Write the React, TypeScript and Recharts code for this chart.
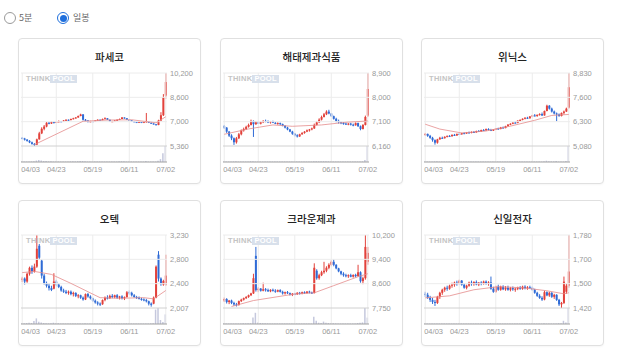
import { ComposedChart, Bar, Line, XAxis, YAxis, ReferenceLine } from "recharts"

// trading days 2025-04-03 .. 2025-07-02
const dates = [
  "04/03", "04/04", "04/07", "04/08", "04/09", "04/10", "04/11", "04/14", "04/15", "04/16",
  "04/17", "04/18", "04/21", "04/22", "04/23", "04/24", "04/25", "04/28", "04/29", "04/30",
  "05/02", "05/07", "05/08", "05/09", "05/12", "05/13", "05/14", "05/15", "05/16", "05/19",
  "05/20", "05/21", "05/22", "05/23", "05/26", "05/27", "05/28", "05/29", "05/30", "06/02",
  "06/04", "06/05", "06/09", "06/10", "06/11", "06/12", "06/13", "06/16", "06/17", "06/18",
  "06/19", "06/20", "06/23", "06/24", "06/25", "06/26", "06/27", "06/30", "07/01", "07/02",
]
const dateTicks = ["04/03", "04/23", "05/19", "06/11", "07/02"]

type Ohlc = [number, number, number, number] // open, high, low, close

const pasecoCandles: Ohlc[] = [
  [5900, 5950, 5800, 5850], [5850, 5900, 5720, 5780], [5780, 5820, 5650, 5700], [5700, 5750, 5550, 5600], [5600, 5650, 5450, 5500],
  [5500, 5550, 5360, 5450], [5450, 5850, 5420, 5800], [5800, 6300, 5780, 6200], [6200, 6600, 6150, 6500], [6500, 6750, 6400, 6650],
  [6650, 6950, 6600, 6900], [6900, 6950, 6800, 6850], [6850, 7000, 6820, 6950], [6950, 6980, 6850, 6900], [6900, 7000, 6880, 6950],
  [6950, 7050, 6920, 7000], [7000, 7020, 6940, 6980], [6980, 7080, 6960, 7050], [7050, 7130, 7020, 7100], [7100, 7120, 7040, 7080],
  [7080, 7180, 7060, 7150], [7150, 7230, 7120, 7200], [7200, 7280, 7170, 7250], [7250, 7380, 7230, 7350], [7350, 7500, 7330, 7450],
  [7450, 7480, 7050, 7100], [7100, 7150, 7000, 7050], [7050, 7080, 6920, 6950], [6950, 7030, 6930, 7000], [7000, 7020, 6950, 6980],
  [6980, 7080, 6970, 7050], [7050, 7130, 7030, 7100], [7100, 7120, 7050, 7080], [7080, 7180, 7070, 7150], [7150, 7260, 7130, 7200],
  [7200, 7210, 7080, 7100], [7100, 7110, 6960, 6980], [6980, 7030, 6950, 7000], [7000, 7080, 6990, 7050], [7050, 7130, 7040, 7100],
  [7100, 7180, 7080, 7150], [7150, 7280, 7140, 7250], [7250, 7260, 7170, 7200], [7200, 7210, 7080, 7100], [7100, 7120, 7020, 7050],
  [7050, 7070, 6980, 7000], [7000, 7010, 6930, 6950], [6950, 6970, 6880, 6900], [6900, 6980, 6890, 6950], [6950, 6960, 6880, 6900],
  [6900, 6980, 6880, 6950], [6950, 7550, 6900, 7000], [7000, 7010, 6880, 6900], [6900, 6920, 6830, 6850], [6850, 6870, 6780, 6800],
  [6800, 6820, 6730, 6750], [6750, 7100, 6740, 7050], [7050, 7600, 7000, 7400], [7400, 8800, 7350, 8600], [8700, 10200, 8500, 9600],
]
const pasecoVolume = [
  4, 3, 3, 3, 4, 5, 9, 12, 10, 6, 6, 4, 4, 3, 3, 3, 3, 3, 3, 3,
  4, 4, 4, 5, 6, 6, 4, 3, 3, 3, 3, 3, 3, 3, 3, 3, 3, 3, 3, 3,
  4, 5, 4, 3, 3, 3, 3, 3, 3, 3, 3, 6, 3, 3, 3, 3, 8, 18, 55, 100,
]
const pasecoMa = [[5, 5450], [25, 7000], [35, 7080], [45, 7100], [55, 6900], [59, 7300]]
const pasecoTicks = [5360, 7000, 8600, 10200]

const haitaiCandles: Ohlc[] = [
  [6900, 6950, 6800, 6850], [6850, 6870, 6650, 6700], [6700, 6720, 6500, 6550], [6550, 6600, 6380, 6450], [6450, 6480, 6200, 6300],
  [6300, 6500, 6250, 6450], [6450, 6650, 6420, 6600], [6600, 6780, 6560, 6750], [6750, 6850, 6700, 6800], [6800, 6920, 6760, 6880],
  [6880, 7000, 6850, 6950], [6950, 7150, 6930, 7100], [7100, 7120, 6500, 6980], [6980, 7100, 6950, 7050], [7050, 7100, 6990, 7000],
  [7000, 7080, 6970, 7050], [7050, 7130, 7020, 7100], [7100, 7150, 7050, 7080], [7080, 7120, 7020, 7050], [7050, 7100, 7000, 7080],
  [7080, 7110, 7020, 7030], [7030, 7060, 6980, 7000], [7000, 7050, 6960, 7020], [7020, 7040, 6950, 6980], [6980, 7000, 6900, 6920],
  [6920, 6940, 6820, 6850], [6850, 6880, 6750, 6780], [6780, 6800, 6680, 6700], [6700, 6730, 6580, 6620], [6620, 6650, 6520, 6560],
  [6560, 6600, 6480, 6520], [6520, 6620, 6500, 6600], [6600, 6680, 6580, 6650], [6650, 6720, 6620, 6700], [6700, 6780, 6680, 6750],
  [6750, 6800, 6700, 6780], [6780, 6850, 6750, 6820], [6820, 7000, 6800, 6950], [6950, 7100, 6930, 7050], [7050, 7200, 7020, 7150],
  [7150, 7300, 7120, 7250], [7250, 7400, 7230, 7350], [7350, 7500, 7320, 7450], [7450, 7520, 7350, 7380], [7380, 7400, 7250, 7280],
  [7280, 7300, 7150, 7180], [7180, 7220, 7050, 7100], [7100, 7150, 7000, 7050], [7050, 7080, 6980, 7020], [7020, 7060, 6960, 7000],
  [7000, 7040, 6950, 6980], [6980, 7020, 6940, 7000], [7000, 7030, 6930, 6960], [6960, 7000, 6900, 6940], [6940, 7050, 6920, 7020],
  [7020, 7040, 6880, 6900], [6900, 6930, 6750, 6800], [6800, 6980, 6780, 6950], [6950, 7300, 6930, 7250], [7300, 8900, 7250, 8300],
]
const haitaiVolume = [
  3, 3, 3, 3, 4, 4, 3, 3, 3, 3, 3, 5, 4, 3, 3, 3, 3, 3, 3, 3,
  3, 3, 3, 3, 3, 3, 3, 3, 3, 3, 3, 3, 3, 3, 3, 3, 3, 4, 4, 4,
  4, 5, 5, 4, 3, 3, 3, 3, 3, 3, 3, 3, 3, 3, 3, 3, 3, 4, 12, 100,
]
const haitaiMa = [[0, 6600], [10, 6800], [20, 6950], [28, 6900], [40, 6950], [50, 7050], [59, 7100]]
const haitaiTicks = [6160, 7100, 8000, 8900]

const winixCandles: Ohlc[] = [
  [5650, 5750, 5600, 5700], [5700, 5720, 5550, 5600], [5600, 5650, 5450, 5500], [5500, 5550, 5300, 5380], [5380, 5420, 5150, 5250],
  [5250, 5450, 5200, 5420], [5420, 5550, 5400, 5500], [5500, 5560, 5450, 5480], [5480, 5580, 5460, 5550], [5550, 5620, 5520, 5600],
  [5600, 5640, 5540, 5580], [5580, 5680, 5560, 5650], [5650, 5700, 5600, 5620], [5620, 5720, 5600, 5700], [5700, 5750, 5650, 5680],
  [5680, 5760, 5660, 5740], [5740, 5780, 5690, 5720], [5720, 5800, 5700, 5780], [5780, 5820, 5720, 5750], [5750, 5830, 5730, 5800],
  [5800, 5850, 5760, 5780], [5780, 5870, 5760, 5850], [5850, 5900, 5800, 5820], [5820, 5920, 5800, 5900], [5900, 5950, 5850, 5880],
  [5880, 5980, 5860, 5950], [5950, 5990, 5880, 5900], [5900, 5960, 5850, 5870], [5870, 5950, 5850, 5930], [5930, 6000, 5900, 5980],
  [5980, 6020, 5920, 5950], [5950, 6060, 5940, 6030], [6030, 6080, 5980, 6000], [6000, 6120, 5990, 6100], [6100, 6200, 6080, 6180],
  [6180, 6250, 6150, 6220], [6220, 6300, 6200, 6280], [6280, 6350, 6240, 6260], [6260, 6400, 6250, 6380], [6380, 6450, 6340, 6420],
  [6420, 6500, 6400, 6480], [6480, 6560, 6450, 6530], [6530, 6580, 6470, 6500], [6500, 6620, 6490, 6600], [6600, 6680, 6560, 6650],
  [6650, 6720, 6600, 6620], [6620, 6700, 6580, 6680], [6680, 6760, 6640, 6720], [6720, 6800, 6620, 6650], [6650, 6900, 6640, 6880],
  [6880, 7200, 6860, 7150], [7150, 7180, 6950, 7000], [7000, 7050, 6800, 6850], [6850, 6900, 6700, 6750], [6750, 6800, 6350, 6700],
  [6700, 6750, 6580, 6620], [6620, 6800, 6600, 6780], [6780, 6900, 6700, 6850], [6850, 7050, 6830, 7000], [7050, 8830, 7000, 8100],
]
const winixVolume = [
  3, 3, 3, 3, 4, 4, 3, 3, 3, 3, 3, 3, 3, 3, 3, 3, 3, 3, 3, 3,
  3, 3, 3, 3, 3, 3, 3, 3, 3, 3, 3, 3, 3, 3, 3, 3, 3, 3, 3, 3,
  3, 3, 3, 3, 3, 3, 3, 3, 3, 5, 8, 5, 4, 4, 6, 3, 3, 3, 6, 100,
]
const winixMa = [[0, 6200], [6, 5950], [15, 5750], [25, 5850], [35, 6100], [45, 6400], [52, 6650], [59, 6700]]
const winixTicks = [5080, 6300, 7600, 8830]

const otechCandles: Ohlc[] = [
  [2480, 2530, 2440, 2500], [2500, 2520, 2400, 2450], [2450, 2600, 2430, 2580], [2580, 2700, 2550, 2680], [2680, 2720, 2580, 2620],
  [2620, 2750, 2600, 2700], [2700, 3230, 2680, 3000], [3050, 3080, 2820, 2850], [2800, 2820, 2500, 2550], [2550, 2580, 2400, 2420],
  [2420, 2450, 2350, 2380], [2380, 2420, 2300, 2340], [2340, 2380, 2290, 2310], [2330, 2590, 2320, 2450], [2450, 2480, 2370, 2400],
  [2400, 2420, 2340, 2360], [2360, 2380, 2280, 2300], [2300, 2330, 2260, 2280], [2280, 2310, 2240, 2260], [2260, 2300, 2230, 2280],
  [2280, 2300, 2220, 2240], [2240, 2280, 2200, 2260], [2260, 2270, 2190, 2210], [2210, 2240, 2170, 2220], [2220, 2230, 2160, 2180],
  [2180, 2200, 2130, 2150], [2150, 2250, 2140, 2240], [2240, 2260, 2180, 2200], [2200, 2220, 2150, 2170], [2170, 2180, 2110, 2130],
  [2130, 2150, 2080, 2100], [2100, 2120, 2050, 2080], [2080, 2100, 2040, 2070], [2070, 2150, 2060, 2140], [2140, 2200, 2120, 2180],
  [2180, 2220, 2150, 2170], [2170, 2230, 2160, 2210], [2210, 2240, 2170, 2190], [2190, 2230, 2170, 2220], [2220, 2240, 2160, 2180],
  [2180, 2210, 2150, 2200], [2200, 2220, 2150, 2170], [2170, 2200, 2140, 2190], [2190, 2290, 2180, 2270], [2270, 2300, 2230, 2260],
  [2260, 2280, 2200, 2220], [2220, 2240, 2180, 2190], [2190, 2210, 2160, 2180], [2180, 2200, 2150, 2160], [2160, 2180, 2130, 2150],
  [2150, 2170, 2120, 2140], [2140, 2160, 2100, 2120], [2120, 2130, 2050, 2080], [2080, 2100, 2030, 2060], [2080, 2200, 2070, 2180],
  [2180, 2720, 2170, 2700], [2900, 2960, 2450, 2500], [2500, 2520, 2380, 2420], [2400, 2480, 2380, 2460], [2400, 2900, 2380, 2550],
]
const otechVolume = [
  5, 4, 6, 8, 6, 18, 35, 14, 10, 6, 5, 4, 4, 8, 5, 4, 3, 3, 3, 3,
  3, 3, 3, 3, 3, 3, 4, 3, 3, 3, 3, 3, 3, 3, 3, 3, 3, 3, 3, 3,
  3, 3, 3, 4, 3, 3, 3, 3, 3, 3, 3, 3, 3, 4, 5, 90, 100, 25, 12, 60,
]
const otechMa = [[0, 2600], [5, 2620], [12, 2570], [20, 2420], [32, 2180], [40, 2170], [50, 2180], [54, 2160], [59, 2300]]
const otechTicks = [2007, 2400, 2800, 3230]

const crownCandles: Ohlc[] = [
  [8000, 8100, 7950, 8050], [8050, 8080, 7900, 7950], [7950, 8020, 7880, 8000], [8000, 8030, 7880, 7920], [7920, 7960, 7820, 7870],
  [7870, 7920, 7800, 7850], [7850, 8000, 7830, 7980], [7980, 8060, 7950, 8030], [8030, 8100, 8000, 8080], [8080, 8150, 8050, 8120],
  [8120, 8200, 8090, 8180], [8180, 8260, 8150, 8240], [8240, 8900, 8220, 8750], [9500, 9800, 8300, 8350], [8350, 8450, 8280, 8400],
  [8400, 8420, 8300, 8330], [8330, 8600, 8310, 8380], [8380, 8420, 8300, 8350], [8350, 8400, 8290, 8310], [8310, 8380, 8280, 8360],
  [8360, 8400, 8300, 8330], [8330, 8380, 8260, 8300], [8300, 8370, 8280, 8350], [8350, 8380, 8270, 8290], [8290, 8330, 8200, 8240],
  [8240, 8300, 8200, 8280], [8280, 8320, 8220, 8250], [8250, 8270, 8170, 8200], [8200, 8250, 8150, 8230], [8230, 8260, 8180, 8210],
  [8210, 8280, 8190, 8260], [8260, 8290, 8200, 8230], [8230, 8300, 8210, 8280], [8280, 8310, 8220, 8250], [8250, 8320, 8230, 8300],
  [8300, 8330, 8240, 8270], [8270, 8300, 8220, 8250], [8250, 9250, 8240, 9100], [9000, 9050, 8700, 8750], [8750, 8900, 8700, 8850],
  [8850, 9000, 8820, 8950], [8950, 9300, 8900, 9000], [9000, 9150, 8950, 9100], [9100, 9250, 9050, 9200], [9200, 9350, 9150, 9300],
  [9300, 9380, 9150, 9200], [9200, 9220, 9050, 9080], [9080, 9100, 8950, 8980], [8980, 9000, 8850, 8900], [8900, 8950, 8800, 8850],
  [8850, 8900, 8780, 8820], [8820, 8880, 8760, 8850], [8850, 8900, 8780, 8800], [8800, 8880, 8770, 8860], [8860, 8900, 8780, 8820],
  [8820, 9200, 8800, 8950], [8950, 8980, 8600, 8650], [8650, 8800, 8550, 8750], [8750, 10200, 8700, 9800], [9300, 9800, 9200, 9600],
]
const crownVolume = [
  4, 3, 3, 3, 3, 3, 3, 3, 4, 4, 4, 5, 40, 70, 10, 6, 5, 4, 4, 3,
  3, 3, 3, 3, 3, 3, 3, 3, 3, 3, 3, 3, 3, 3, 3, 3, 3, 45, 20, 8,
  6, 15, 8, 6, 5, 4, 4, 3, 3, 3, 3, 3, 3, 3, 3, 6, 8, 10, 100, 40,
]
const crownMa = [[3, 7800], [12, 8000], [29, 8220], [37, 8260], [45, 8500], [55, 8800], [59, 8900]]
const crownTicks = [7750, 8600, 9400, 10200]

const shinilCandles: Ohlc[] = [
  [1490, 1500, 1475, 1485], [1485, 1495, 1465, 1470], [1470, 1480, 1450, 1460], [1460, 1470, 1440, 1450], [1450, 1460, 1430, 1445],
  [1445, 1480, 1440, 1475], [1475, 1500, 1465, 1495], [1495, 1515, 1485, 1510], [1510, 1525, 1500, 1520], [1520, 1530, 1505, 1515],
  [1515, 1535, 1510, 1530], [1530, 1545, 1520, 1535], [1535, 1550, 1525, 1545], [1545, 1555, 1530, 1540], [1540, 1560, 1535, 1555],
  [1555, 1558, 1530, 1535], [1535, 1540, 1515, 1520], [1520, 1535, 1512, 1530], [1530, 1550, 1525, 1545], [1545, 1555, 1530, 1538],
  [1538, 1552, 1530, 1548], [1548, 1556, 1532, 1536], [1536, 1548, 1528, 1545], [1545, 1552, 1532, 1540], [1540, 1555, 1535, 1550],
  [1550, 1556, 1535, 1540], [1540, 1552, 1530, 1546], [1546, 1575, 1510, 1515], [1515, 1525, 1495, 1500], [1500, 1530, 1495, 1525],
  [1525, 1535, 1505, 1510], [1510, 1530, 1505, 1525], [1525, 1532, 1508, 1512], [1512, 1528, 1505, 1520], [1520, 1530, 1505, 1510],
  [1510, 1524, 1502, 1518], [1518, 1526, 1505, 1512], [1512, 1520, 1500, 1515], [1515, 1525, 1508, 1520], [1520, 1528, 1510, 1515],
  [1515, 1530, 1510, 1525], [1525, 1532, 1512, 1518], [1518, 1528, 1510, 1522], [1522, 1530, 1515, 1520], [1520, 1526, 1505, 1510],
  [1510, 1515, 1490, 1495], [1495, 1500, 1475, 1480], [1480, 1488, 1465, 1470], [1470, 1478, 1455, 1462], [1462, 1505, 1458, 1498],
  [1498, 1502, 1478, 1482], [1482, 1500, 1475, 1495], [1495, 1498, 1470, 1475], [1475, 1490, 1465, 1485], [1485, 1488, 1455, 1460],
  [1460, 1465, 1430, 1438], [1438, 1450, 1420, 1445], [1445, 1575, 1440, 1550], [1500, 1540, 1490, 1530], [1530, 1780, 1520, 1600],
]
const shinilVolume = [
  3, 3, 3, 3, 3, 3, 3, 3, 3, 3, 3, 3, 3, 3, 3, 3, 3, 3, 3, 3,
  3, 3, 3, 3, 3, 3, 3, 5, 3, 3, 3, 3, 3, 3, 3, 3, 3, 3, 3, 3,
  3, 3, 3, 3, 3, 3, 3, 3, 3, 4, 3, 3, 3, 3, 3, 5, 4, 20, 10, 100,
]
const shinilMa = [[0, 1470], [10, 1480], [20, 1510], [30, 1525], [40, 1520], [50, 1505], [57, 1490], [59, 1495]]
const shinilTicks = [1420, 1500, 1700, 1780]

const stocks = [
  { name: "파세코", candles: pasecoCandles, volume: pasecoVolume, ma: pasecoMa, ticks: pasecoTicks },
  { name: "해태제과식품", candles: haitaiCandles, volume: haitaiVolume, ma: haitaiMa, ticks: haitaiTicks },
  { name: "위닉스", candles: winixCandles, volume: winixVolume, ma: winixMa, ticks: winixTicks },
  { name: "오텍", candles: otechCandles, volume: otechVolume, ma: otechMa, ticks: otechTicks },
  { name: "크라운제과", candles: crownCandles, volume: crownVolume, ma: crownMa, ticks: crownTicks },
  { name: "신일전자", candles: shinilCandles, volume: shinilVolume, ma: shinilMa, ticks: shinilTicks },
]

const RED = "#e2413b"
const BLUE = "#2f6bd6"
const CARD_W = 183
const CARD_H = 146
const PRICE_H = 73
const VOL_H = 16
const AXIS_FONT = "'Liberation Sans', Arial, sans-serif"
const KR_FONT = "'Noto Sans CJK KR', 'Noto Sans', sans-serif"

const Candle = (props: any) => {
  const { x, y, width, height, payload } = props
  const { o, h, l, c } = payload
  const top = Math.min(y, y + height)
  const span = Math.abs(height)
  const py = (p: number) => (h === l ? top : top + ((h - p) / (h - l)) * span)
  const cx = x + width / 2
  const color = c >= o ? RED : BLUE
  const bt = py(Math.max(o, c))
  const bb = py(Math.min(o, c))
  return (
    <g>
      <line x1={cx} x2={cx} y1={top} y2={top + span} stroke={color} strokeWidth={1} />
      <rect x={cx - 1} y={bt} width={2} height={Math.max(1, bb - bt)} fill={color} />
    </g>
  )
}

const DateTick = (props: any) => {
  const { x, y, payload } = props
  if (!dateTicks.includes(payload.value)) return <g />
  const first = payload.value === dates[0]
  return (
    <text x={first ? x - 1 : x} y={y + 8} textAnchor={first ? "start" : "middle"} fontSize={7.5} fill="#999" fontFamily={AXIS_FONT}>
      {payload.value}
    </text>
  )
}

function StockCard({ stock, left, top }: { stock: (typeof stocks)[number]; left: number; top: number }) {
  const maMap = new Map(stock.ma.map(([i, v]) => [i, v]))
  const data = dates.map((d, i) => {
    const [o, h, l, c] = stock.candles[i]
    return { d, o, h, l, c, hl: [l, h], v: stock.volume[i], ma: maMap.has(i) ? maMap.get(i) : null }
  })
  const lo = stock.ticks[0]
  const hi = stock.ticks[3]
  const step = (hi - lo) / 3
  const tickPos = [lo, lo + step, lo + 2 * step, hi]
  const domain = [lo - ((hi - lo) * VOL_H) / PRICE_H, hi]
  const vmax = Math.max(...stock.volume)

  return (
    <div
      style={{
        position: "absolute",
        left,
        top,
        width: CARD_W,
        height: CARD_H,
        boxSizing: "border-box",
        border: "1px solid #e0e0e0",
        borderRadius: 4,
        background: "#fff",
        boxShadow: "0 1px 2px rgba(0,0,0,0.04)",
      }}
    >
      <div
        style={{
          position: "absolute",
          left: 0,
          right: 0,
          top: 10,
          lineHeight: "16px",
          textAlign: "center",
          fontSize: 10.5,
          fontWeight: 500,
          color: "#222",
          fontFamily: KR_FONT,
        }}
      >
        {stock.name}
      </div>
      <div style={{ position: "absolute", left: -1, top: -1 }}>
        <ComposedChart width={CARD_W} height={CARD_H} data={data} margin={{ top: 35, right: 0, left: 3, bottom: 0 }}>
          <XAxis
            dataKey="d"
            height={22}
            interval={0}
            tickSize={0}
            tickLine={false}
            axisLine={{ stroke: "#a0a0a0" }}
            tick={DateTick}
          />
          <XAxis xAxisId="v" dataKey="d" hide />
          <YAxis
            yAxisId="price"
            orientation="right"
            type="number"
            width={34}
            domain={domain}
            allowDataOverflow
            ticks={tickPos}
            interval={0}
            tickFormatter={(v: number) => {
              const k = tickPos.findIndex((t) => Math.abs(t - v) < 1e-6)
              return (k >= 0 ? stock.ticks[k] : v).toLocaleString("en-US")
            }}
            axisLine={false}
            tickLine={false}
            tickSize={0}
            tickMargin={3}
            tick={{ fontSize: 7.5, fill: "#999", fontFamily: AXIS_FONT }}
          />
          <YAxis yAxisId="vol" hide domain={[0, (vmax * (PRICE_H + VOL_H)) / VOL_H]} />
          {dateTicks.map((d) => (
            <ReferenceLine key={d} x={d} yAxisId="price" stroke="#ececec" />
          ))}
          {tickPos.slice(1).map((t) => (
            <ReferenceLine key={t} y={t} yAxisId="price" stroke="#ececec" />
          ))}
          <ReferenceLine y={lo} yAxisId="price" stroke="#d0d0d0" />
          <Bar xAxisId="v" yAxisId="vol" dataKey="v" fill="#c5c8dd" barSize={1.5} isAnimationActive={false} />
          <Line
            yAxisId="price"
            dataKey="ma"
            stroke="#e48c8c"
            strokeWidth={0.8}
            dot={false}
            connectNulls
            isAnimationActive={false}
          />
          <Bar yAxisId="price" dataKey="hl" shape={<Candle />} isAnimationActive={false} />
        </ComposedChart>
      </div>
      <div
        style={{
          position: "absolute",
          left: 7,
          top: 36,
          display: "flex",
          alignItems: "center",
          fontFamily: AXIS_FONT,
          fontWeight: 700,
          fontSize: 7.5,
          lineHeight: "8px",
          letterSpacing: 0.3,
        }}
      >
        <span style={{ color: "#c4c4c4" }}>THINK</span>
        <span style={{ color: "#fff", background: "#d8e0eb", padding: "0 2px" }}>POOL</span>
      </div>
    </div>
  )
}

export default function App() {
  const lefts = [18, 220, 421]
  const tops = [38, 200]
  return (
    <div style={{ position: "absolute", left: 0, top: 0, width: 618, height: 356, background: "#fff", fontFamily: KR_FONT }}>
      <span
        style={{
          position: "absolute",
          left: 4,
          top: 12,
          width: 12,
          height: 12,
          boxSizing: "border-box",
          border: "1px solid #9a9a9a",
          borderRadius: "50%",
        }}
      />
      <span style={{ position: "absolute", left: 19, top: 11, fontSize: 9, lineHeight: "14px", color: "#666" }}>5분</span>
      <span
        style={{
          position: "absolute",
          left: 57,
          top: 12,
          width: 12,
          height: 12,
          boxSizing: "border-box",
          border: "1px solid #1f6fdc",
          borderRadius: "50%",
          display: "flex",
          alignItems: "center",
          justifyContent: "center",
        }}
      >
        <span style={{ width: 7, height: 7, borderRadius: "50%", background: "#1f6fdc" }} />
      </span>
      <span style={{ position: "absolute", left: 73, top: 11, fontSize: 9, lineHeight: "14px", color: "#666" }}>일봉</span>
      {stocks.map((s, i) => (
        <StockCard key={s.name} stock={s} left={lefts[i % 3]} top={tops[Math.floor(i / 3)]} />
      ))}
    </div>
  )
}
